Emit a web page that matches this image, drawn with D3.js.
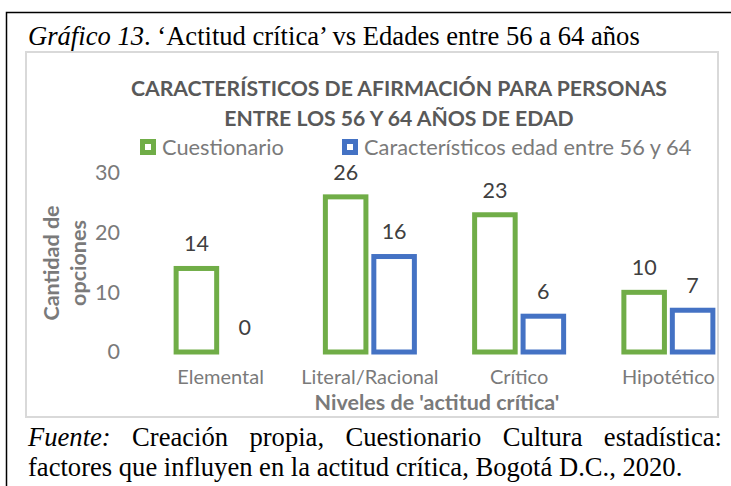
<!DOCTYPE html>
<html>
<head>
<meta charset="utf-8">
<script src="https://cdn.jsdelivr.net/npm/d3@7"></script>
<style>
  body { margin: 0; background: #fff; }
  svg { display: block; }
  .serif { font-family: "Liberation Serif", "Times New Roman", serif; fill: #000; }
  .sans { font-family: Lato, "Open Sans", sans-serif; }
</style>
</head>
<body>
<div id="chart"></div>
<script>
// Data
const categories = ["Elemental", "Literal/Racional", "Crítico", "Hipotético"];
const seriesNames = ["Cuestionario", "Característicos edad entre 56 y 64"];
const cuestionario = [14, 26, 23, 10];
const edad56a64 = [0, 16, 6, 7];
const yTicks = [0, 10, 20, 30];

const seriesColors = ["#70ad47", "#4472c4"];
const seriesValues = [cuestionario, edad56a64];

const W = 731, H = 486;

const svg = d3.select("#chart")
    .append("svg")
    .attr("width", W)
    .attr("height", H);

// Outer document frame (runs off the right and bottom edges)
svg.append("rect")
    .attr("x", 6.5)
    .attr("y", 12.5)
    .attr("width", 800)
    .attr("height", 600)
    .attr("fill", "none")
    .attr("stroke", "#000")
    .attr("stroke-width", 1.5);

// Caption
const caption = svg.append("text")
    .attr("class", "serif")
    .attr("x", 28)
    .attr("y", 45)
    .style("font-size", "26.6px");
caption.append("tspan").style("font-style", "italic").text("Gráfico 13");
caption.append("tspan").text(". \u2018Actitud crítica\u2019 vs Edades entre 56 a 64 años");

// Chart area border
svg.append("rect")
    .attr("x", 26)
    .attr("y", 52)
    .attr("width", 692)
    .attr("height", 365)
    .attr("fill", "#fff")
    .attr("stroke", "#d9d9d9")
    .attr("stroke-width", 2);

// Title
const title = svg.append("text")
    .attr("class", "sans")
    .attr("text-anchor", "middle")
    .style("font-size", "21.2px")
    .style("font-weight", "bold")
    .style("fill", "#595959");
title.append("tspan").attr("x", 399).attr("y", 96)
    .text("CARACTERÍSTICOS DE AFIRMACIÓN PARA PERSONAS");
title.append("tspan").attr("x", 399).attr("y", 126)
    .text("ENTRE LOS 56 Y 64 AÑOS DE EDAD");

// Legend
const legendX = [140, 342];
seriesNames.forEach((name, i) => {
    const g = svg.append("g")
        .attr("transform", `translate(${legendX[i]},139)`);
    g.append("rect")
        .attr("x", 2.5)
        .attr("y", 2.5)
        .attr("width", 11)
        .attr("height", 11)
        .attr("fill", "#fff")
        .attr("stroke", seriesColors[i])
        .attr("stroke-width", 5);
    g.append("text")
        .attr("class", "sans")
        .attr("x", 22)
        .attr("y", 8)
        .attr("dy", "0.36em")
        .style("font-size", "21.8px")
        .style("fill", "#7a7a7a")
        .text(name);
});

// Scales
const x0 = d3.scaleBand()
    .domain(categories)
    .range([146, 743])
    .padding(0);

const x1 = d3.scaleBand()
    .domain(seriesNames)
    .range([x0.bandwidth() / 2 - 47, x0.bandwidth() / 2 + 47])
    .paddingInner(0.06);

const y = d3.scaleLinear()
    .domain([0, 30])
    .range([352, 173]);

// Y axis labels only (no line, no ticks)
const yAxis = svg.append("g")
    .attr("transform", "translate(120,0)")
    .call(d3.axisLeft(y).tickValues(yTicks).tickSize(0).tickPadding(0));
yAxis.select(".domain").remove();
yAxis.selectAll("text")
    .attr("class", "sans")
    .style("font-size", "21.5px")
    .style("fill", "#7a7a7a");

// X axis labels
const xAxis = svg.append("g")
    .attr("transform", "translate(0,370)")
    .call(d3.axisBottom(x0).tickSize(0).tickPadding(0));
xAxis.select(".domain").remove();
xAxis.selectAll("text")
    .attr("class", "sans")
    .style("font-size", "20px")
    .style("fill", "#7a7a7a");

// Axis titles
svg.append("text")
    .attr("class", "sans")
    .attr("x", 437)
    .attr("y", 410)
    .attr("text-anchor", "middle")
    .style("font-size", "21.5px")
    .style("font-weight", "bold")
    .style("fill", "#7a7a7a")
    .text("Niveles de 'actitud crítica'");

const yTitle = svg.append("text")
    .attr("class", "sans")
    .attr("transform", "translate(0,263) rotate(-90)")
    .attr("text-anchor", "middle")
    .style("font-size", "21.5px")
    .style("font-weight", "bold")
    .style("fill", "#7a7a7a");
yTitle.append("tspan").attr("x", 0).attr("y", 59).text("Cantidad de");
yTitle.append("tspan").attr("x", 0).attr("y", 86).text("opciones");

// Bars
const sw = 5;
const groups = svg.selectAll(".cat")
    .data(categories)
    .join("g")
    .attr("class", "cat")
    .attr("transform", d => `translate(${x0(d)},0)`);

seriesNames.forEach((name, s) => {
    groups.append("rect")
        .attr("x", x1(name) + sw / 2)
        .attr("width", x1.bandwidth() - sw)
        .attr("y", (d, i) => y(seriesValues[s][i]))
        .attr("height", (d, i) => y(0) - y(seriesValues[s][i]))
        .attr("fill", "#fff")
        .attr("stroke", seriesColors[s])
        .attr("stroke-width", sw);

    groups.append("text")
        .attr("class", "sans")
        .attr("x", x1(name) + x1.bandwidth() / 2)
        .attr("y", (d, i) => y(seriesValues[s][i]) - 25)
        .attr("dy", "0.36em")
        .attr("text-anchor", "middle")
        .style("font-size", "21.5px")
        .style("fill", "#404040")
        .text((d, i) => seriesValues[s][i]);
});

// Source note, first line justified
const line1 = [
    { t: "Fuente:", italic: true },
    { t: "Creación" }, { t: "propia," }, { t: "Cuestionario" },
    { t: "Cultura" }, { t: "estadística:" }
];
const words = svg.selectAll(".src-word")
    .data(line1)
    .join("text")
    .attr("class", "serif src-word")
    .attr("y", 446)
    .style("font-size", "26.6px")
    .style("font-style", d => d.italic ? "italic" : null)
    .text(d => d.t);
const widths = words.nodes().map(n => n.getComputedTextLength());
const gap = (722 - 28 - d3.sum(widths)) / (line1.length - 1);
let cx = 28;
words.attr("x", (d, i) => { const p = cx; cx += widths[i] + gap; return p; });

svg.append("text")
    .attr("class", "serif")
    .attr("x", 28)
    .attr("y", 476)
    .style("font-size", "26.6px")
    .text("factores que influyen en la actitud crítica, Bogotá D.C., 2020.");
</script>
</body>
</html>
